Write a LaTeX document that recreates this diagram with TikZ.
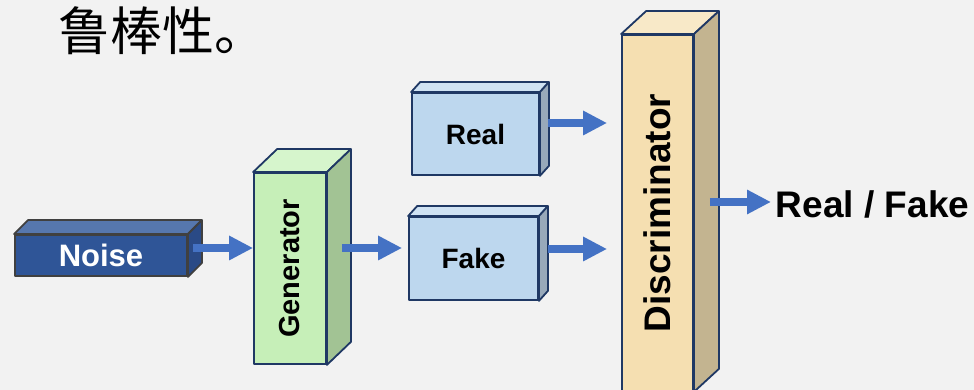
\documentclass[tikz,border=0pt]{standalone}
\usepackage{fontspec}
\setmainfont{Liberation Sans}
\newfontfamily\cjkfont{Noto Sans CJK SC}
\usetikzlibrary{arrows.meta}

\definecolor{bggray}{HTML}{F2F2F2}
\definecolor{navy}{HTML}{1F3864}
\definecolor{flowblue}{HTML}{4472C4}
\definecolor{noiseline}{HTML}{404040}
\definecolor{noisefront}{HTML}{2F5597}
\definecolor{noisetop}{HTML}{5677AE}
\definecolor{noiseside}{HTML}{2A4A86}
\definecolor{genfront}{HTML}{C6EFB8}
\definecolor{gentop}{HTML}{D6F5CC}
\definecolor{genside}{HTML}{A2C394}
\definecolor{imgfront}{HTML}{BDD7EE}
\definecolor{imgtop}{HTML}{CFE2F3}
\definecolor{imgside}{HTML}{98A9BA}
\definecolor{discfront}{HTML}{F5DFB1}
\definecolor{disctop}{HTML}{F8E9C8}
\definecolor{discside}{HTML}{C3B490}

\begin{document}
\begin{tikzpicture}
[x=1pt, y=1pt, line width=1.8pt, line join=round, font=\bfseries,
block/.style={rectangle, draw=navy, inner sep=0pt},
flow/.style={draw=flowblue, line width=8pt, -{Triangle[length=24pt, width=23pt]}}]

\useasboundingbox (0,0) rectangle (974,390);
\fill[bggray] (0,0) rectangle (974,390);
\clip (0,0) rectangle (974,390);

\node[anchor=base west, inner sep=0pt, font=\cjkfont\fontsize{52}{56}\selectfont] (title) at (58,339) {鲁棒性。};

% front faces
\node[block, draw=noiseline, fill=noisefront, minimum width=172, minimum height=41] (noise) at (101,134.5) {};
\node[block, fill=genfront, minimum width=72, minimum height=191] (gen) at (290,121.5) {};
\node[block, fill=imgfront, minimum width=127, minimum height=82] (real) at (475.5,256) {};
\node[block, fill=imgfront, minimum width=129, minimum height=83] (fake) at (473.5,131.5) {};
\node[block, fill=discfront, minimum width=71, minimum height=356] (disc) at (657.5,177) {};

% top and side faces
\foreach \n/\dx/\dy/\ctop/\cside/\cline in {noise/14/14/noisetop/noiseside/noiseline,
    gen/24/23/gentop/genside/navy, real/9/10/imgtop/imgside/navy,
    fake/9/10/imgtop/imgside/navy, disc/25/23/disctop/discside/navy} {
  \draw[fill=\ctop, draw=\cline] (\n.north west) -- ++(\dx,\dy) -- ([shift={(\dx,\dy)}]\n.north east) -- (\n.north east) -- cycle;
  \draw[fill=\cside, draw=\cline] (\n.north east) -- ++(\dx,\dy) -- ([shift={(\dx,\dy)}]\n.south east) -- (\n.south east) -- cycle;
}

% labels
\node[text=white, font=\bfseries\fontsize{31}{33}\selectfont] (noisetxt) at (noise) {Noise};
\node[rotate=90, font=\bfseries\fontsize{29}{31}\selectfont] (gentxt) at (gen) {Generator};
\node[font=\bfseries\fontsize{28}{30}\selectfont] (realtxt) at (real) {Real};
\node[font=\bfseries\fontsize{28}{30}\selectfont] (faketxt) at (fake) {Fake};
\node[rotate=90, font=\bfseries\fontsize{37}{39}\selectfont] (disctxt) at (disc) {Discriminator};
\node[anchor=west, inner sep=0pt, font=\bfseries\fontsize{37}{39}\selectfont] (out) at (775,185.5) {Real / Fake};

% arrows
\draw[flow] ([shift={(5,7.5)}]noise.east) coordinate (n1) -- (n1 -| gen.west);
\draw[flow, shorten >=6pt] ([shift={(15,20.5)}]gen.east) coordinate (g1) -- (g1 -| fake.west);
\draw[flow, shorten >=14pt] ([shift={(8,11)}]real.east) coordinate (r1) -- (r1 -| disc.west);
\draw[flow, shorten >=14pt] ([shift={(9,9.5)}]fake.east) coordinate (f1) -- (f1 -| disc.west);
\draw[flow, shorten >=4pt] ([shift={(16,11)}]disc.east) coordinate (d1) -- (d1 -| out.west);

\end{tikzpicture}
\end{document}
